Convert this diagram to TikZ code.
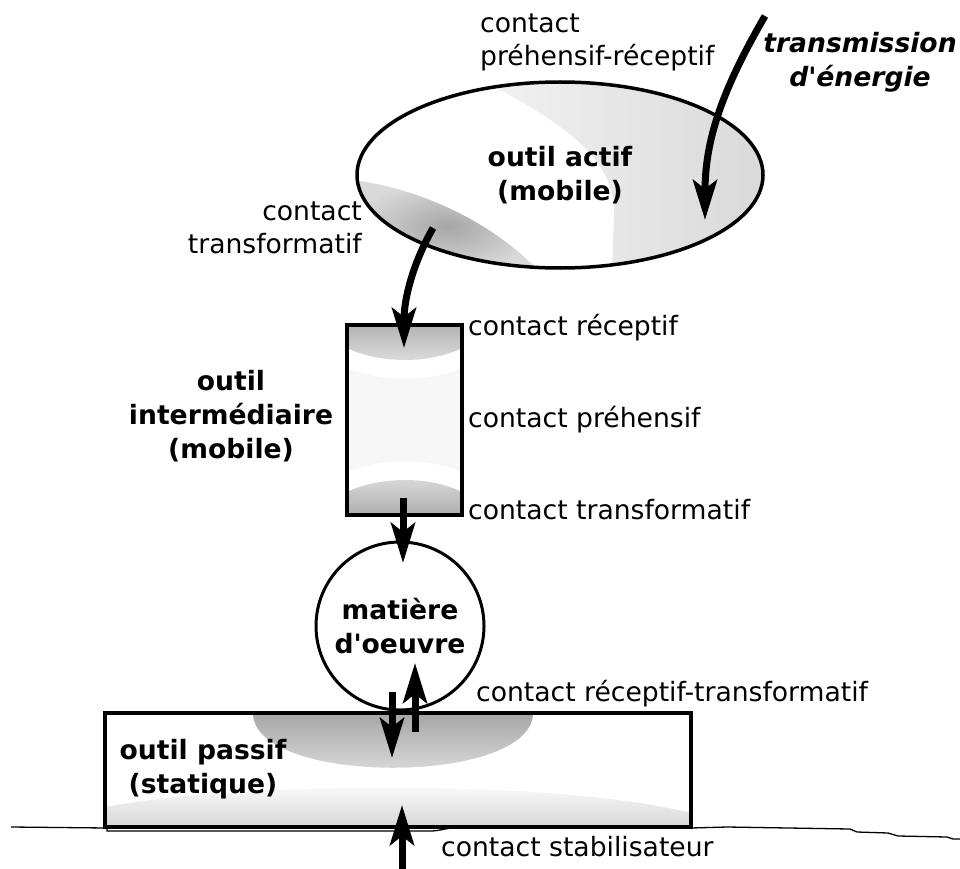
\documentclass[tikz,border=0pt]{standalone}
\usepackage{fontspec}
\setmainfont{DejaVu Sans}[Ligatures=TeXOff]
\usepackage{tikz}
\usetikzlibrary{arrows.meta}
\usetikzlibrary{shapes.geometric}

\begin{document}
\begin{tikzpicture}[x=1pt, y=-1pt,
        every node/.style={font=\fontsize{26.6}{33}\selectfont, inner sep=0pt},
        titre/.style={font=\fontsize{26.6}{34}\selectfont\bfseries, align=center},
        fleche/.style={line width=7pt, -{Stealth[length=40pt, width=24pt, inset=9pt]}},
        contour/.style={draw, line width=3.5pt}]
        % Fix the frame
        \useasboundingbox (0,0) rectangle (960,869);

        % Shade the outil actif
        \begin{scope}
            \clip (560,175) ellipse [x radius=203, y radius=93];
            \shade[left color=gray!10, right color=gray!30] (482,80) .. controls (545,115) and (615,150) .. (614,213) -- (612,272) -- (770,272) -- (770,80) -- cycle;
            \shade[inner color=gray!70, outer color=gray!30] (360,181) .. controls (420,190) and (490,220) .. (540,272) -- (355,272) -- cycle;
        \end{scope}
        \node[contour, ellipse, titre, minimum width=406pt, minimum height=186pt] (actif) at (560,175) {outil actif\\(mobile)};

        % Shade the outil intermediaire
        \shade[top color=gray!60, bottom color=gray!25] (347,325) -- (462,325) -- (462,348) .. controls (430,364) and (380,364) .. (347,348) -- cycle;
        \shade[top color=gray!6, middle color=gray!20, bottom color=gray!6] (347,368) .. controls (380,382) and (430,382) .. (462,368) -- (462,472) .. controls (430,458) and (380,458) .. (347,472) -- cycle;
        \shade[top color=gray!28, bottom color=gray!64] (347,492) .. controls (380,476) and (430,476) .. (462,492) -- (462,515) -- (347,515) -- cycle;
        \node[contour, line width=4pt, minimum width=115pt, minimum height=190pt] (inter) at (404.5,420) {};
        \node[titre] (interlab) at (231,416) {outil\\intermédiaire\\(mobile)};

        % Shade the outil passif
        \begin{scope}
            \clip (105,713) rectangle (691,827);
            \shade[top color=gray!70, bottom color=gray!20] (253,713) .. controls (253,786) and (533,786) .. (533,713) -- cycle;
            \shade[top color=white, bottom color=gray!32] (105,807) .. controls (250,780) and (560,780) .. (691,813) -- (691,827) -- (105,827) -- cycle;
        \end{scope}
        \node[contour, line width=4pt, minimum width=586pt, minimum height=114pt] (passif) at (398,770) {};
        \node[titre] (passiflab) at (203,769) {outil passif\\(statique)};

        % The matiere d'oeuvre
        \node[contour, line width=3pt, circle, fill=white, minimum size=168pt, titre] (matiere) at (400,626) {matière\\d'oeuvre};

        % Draw the ground
        \draw[line width=1.3pt] (11,827) -- (107,828) -- (107,831) -- (430,831) .. controls (440,831) and (445,828) .. (455,828) -- (691,828) -- (727,827) -- (850,829) -- (857,832) -- (888,833) -- (898,836) -- (947,837) -- (953,839) -- (960,839);

        % Contact points
        \coordinate (energie) at (765,16);
        \coordinate (energiebout) at (705,220);
        \coordinate (actifbas) at (433,228);
        \coordinate (interhaut) at (404,348);
        \coordinate (interbas) at (403,498);
        \coordinate (matierehaut) at (403,563);
        \coordinate (matierebas) at (392,692);
        \coordinate (passifhaut) at (392,758);
        \coordinate (passifbas) at (415,732);
        \coordinate (matiereint) at (415,663);
        \coordinate (sol) at (402,869);
        \coordinate (passifsol) at (402,805);

        % Draw the arrows
        \draw[fleche] (energie) .. controls (722,90) and (705,140) .. (energiebout);
        \draw[fleche] (actifbas) .. controls (412,265) and (404,300) .. (interhaut);
        \draw[fleche] (interbas) -- (matierehaut);
        \draw[fleche] (matierebas) -- (passifhaut);
        \draw[fleche] (passifbas) -- (matiereint);
        \draw[fleche] (sol) -- (passifsol);

        % Labels for each contact
        \node[anchor=west, align=left] (prehrecept) at (480,42) {contact\\préhensif-réceptif};
        \node[titre, font=\fontsize{26.6}{34}\selectfont\bfseries\itshape] (energielab) at (860,62) {transmission\\d'énergie};
        \node[anchor=east, align=right] (transfactif) at (362,228) {contact\\transformatif};
        \node[anchor=west] (recept) at (468,328) {contact réceptif};
        \node[anchor=west] (prehens) at (468,420) {contact préhensif};
        \node[anchor=west] (transf) at (468,510) {contact transformatif};
        \node[anchor=west] (receptransf) at (476,694) {contact réceptif-transformatif};
        \node[anchor=west] (stabil) at (441,847) {contact stabilisateur};
    \end{tikzpicture}
\end{document}
